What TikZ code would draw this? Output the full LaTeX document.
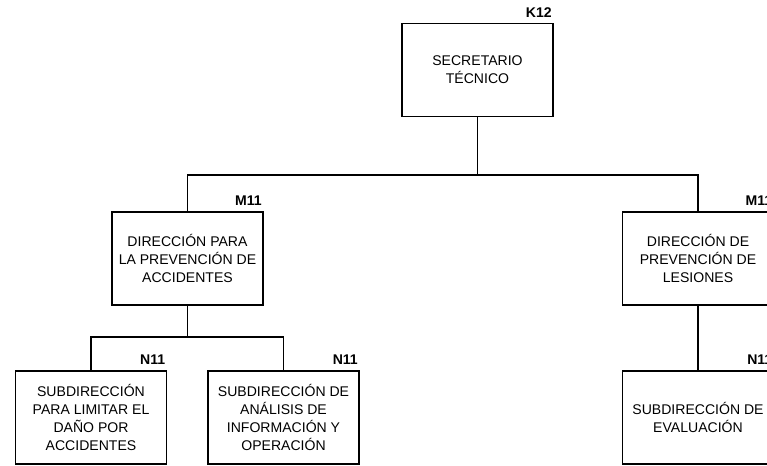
\documentclass[tikz,border=0pt]{standalone}
\usepackage{fontspec}
\setmainfont{Liberation Sans}

\begin{document}
\begin{tikzpicture}[x=0.02cm, y=-0.02cm,
    unit/.style={draw, line width=1pt, minimum width=3.02cm, minimum height=1.86cm,
      align=center, inner sep=0pt, font=\fontsize{8}{10.2}\selectfont},
    grade/.style={anchor=south east, inner sep=0pt, xshift=-1pt, yshift=2.8pt,
      font=\fontsize{8}{9}\selectfont\bfseries},
    link/.style={line width=1pt}]
   % page
   \useasboundingbox (0,0) rectangle (767,466);
   \clip (0,0) rectangle (767,466);

   % boxes
   \node[unit] (sec)  at (477.5, 70)   {SECRETARIO\\T\'ECNICO};
   \node[unit] (dirA) at (187.5, 258.5) {DIRECCI\'ON PARA\\LA PREVENCI\'ON DE\\ACCIDENTES};
   \node[unit] (dirB) at (698, 258.5)   {DIRECCI\'ON DE\\PREVENCI\'ON DE\\LESIONES};
   \node[unit] (subA) at (91, 417.5)   {SUBDIRECCI\'ON\\PARA LIMITAR EL\\DA\~NO POR\\ACCIDENTES};
   \node[unit] (subB) at (283.5, 417.5) {SUBDIRECCI\'ON DE\\AN\'ALISIS DE\\INFORMACI\'ON Y\\OPERACI\'ON};
   \node[unit] (subC) at (698, 417.5)  {SUBDIRECCI\'ON DE\\EVALUACI\'ON};

   % connectors
   \coordinate (busTop) at (477.5, 175);
   \coordinate (busLeft) at (187.5, 337);
   \draw[link] (sec.south) -- (busTop);
   \draw[link] (dirA.north) |- (busTop) -| (dirB.north);
   \draw[link] (dirA.south) -- (busLeft);
   \draw[link] (subA.north) |- (busLeft) -| (subB.north);
   \draw[link] (dirB.south) -- (subC.north);

   % labels
   \node[grade] (secL)  at (sec.north east)  {K12};
   \node[grade] (dirAL) at (dirA.north east) {M11};
   \node[grade] (dirBL) at (dirB.north east) {M11};
   \node[grade] (subAL) at (subA.north east) {N11};
   \node[grade] (subBL) at (subB.north east) {N11};
   \node[grade] (subCL) at (subC.north east) {N11};
\end{tikzpicture}
\end{document}
